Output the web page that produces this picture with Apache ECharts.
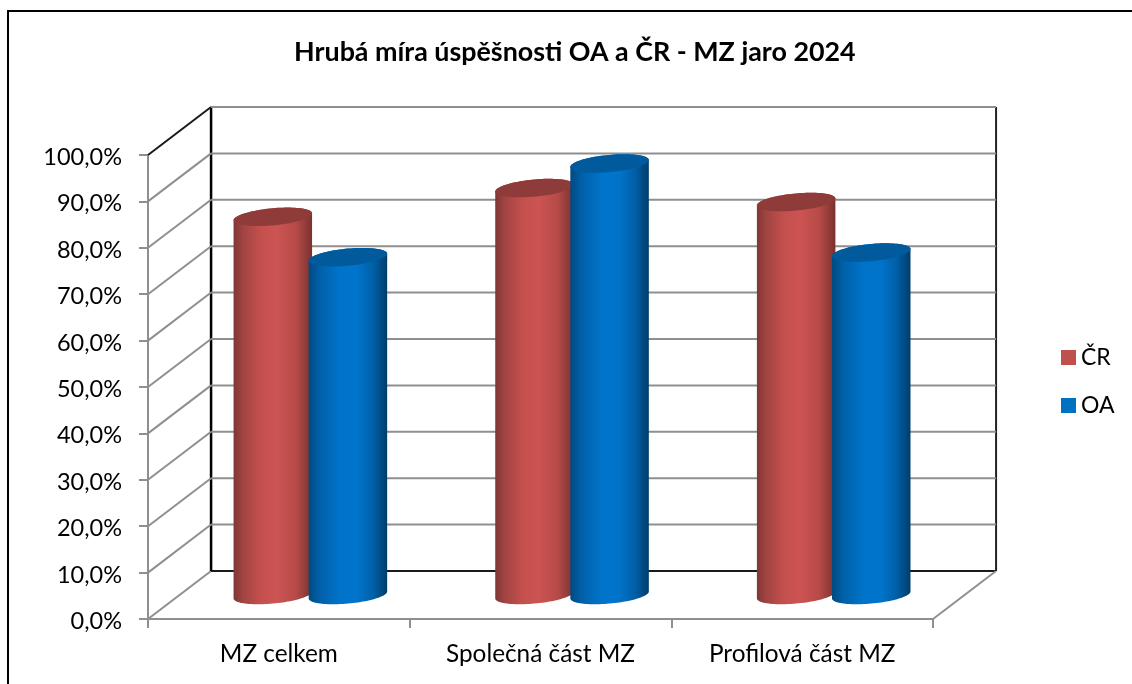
<!DOCTYPE html>
<html>
<head>
<meta charset="utf-8">
<script src="https://cdn.jsdelivr.net/npm/echarts@6/dist/echarts.min.js"></script>
<style>html,body{margin:0;padding:0;background:#fff}#c{width:1132px;height:684px}</style>
</head>
<body>
<div id="c"></div>
<script>
const titleText = 'Hrubá míra úspěšnosti OA a ČR - MZ jaro 2024';
const categories = ['MZ celkem', 'Společná část MZ', 'Profilová část MZ'];
const seriesCR = [81.5, 87.7, 84.7];
const seriesOA = [72.8, 93.0, 73.8];
const gridTicks = [0, 10, 20, 30, 40, 50, 60, 70, 80, 90, 100];

const FONT = 'Lato, "Open Sans", sans-serif';
const GREY = '#8f8f8f';
const DEPTH_X = 0.241;   // depth of the box, in category bands
const DEPTH_Y = 10.35;   // depth of the box, in value units
const HALF_W = 0.15;     // cylinder radius, in bands
const SPREAD = 0.1435;   // cylinder offset from group centre, in bands
const CAP = 1.85;        // cap minor radius, in value units
const TILT = 0.75;       // cap slant, in value units

const grad = (stops) => new echarts.graphic.LinearGradient(0, 0, 1, 0, stops.map(s => ({offset: s[0], color: s[1]})));
const redBody = [[0,'#7f3634'],[0.12,'#a14442'],[0.35,'#c4504e'],[0.55,'#cc5452'],[0.8,'#b54a48'],[1,'#79322f']];
const blueBody = [[0,'#004a80'],[0.14,'#0060a8'],[0.4,'#0074ca'],[0.62,'#0074ca'],[0.82,'#0060a8'],[1,'#003d6a']];

function cylinder(bodyStops, capColor, sign) {
  return function (params, api) {
    const i = api.value(0), v = api.value(1);
    const band = api.size([1, 0])[0], unit = api.size([0, 1])[1];
    const base = api.coord([i, 0]), top = api.coord([i, v]);
    const cx = base[0] + band * (DEPTH_X / 2 + sign * SPREAD);
    const dy = unit * DEPTH_Y / 2;
    const yB = base[1] - dy, yT = top[1] - dy;
    const a = band * HALF_W, b = unit * CAP, s = unit * TILT;
    const pt = (y, t) => [cx + a * Math.cos(t), y + b * Math.sin(t) - s * Math.cos(t)];
    const body = [], cap = [];
    const N = 48;
    for (let k = 0; k <= N; k++) body.push(pt(yB, Math.PI * k / N));
    for (let k = 0; k <= N; k++) body.push(pt(yT, Math.PI + Math.PI * k / N).slice());
    for (let k = 0; k < N * 2; k++) cap.push(pt(yT, Math.PI * k / N));
    return {
      type: 'group',
      children: [
        {type: 'polygon', shape: {points: body}, style: {fill: grad(bodyStops)}},
        {type: 'polygon', shape: {points: cap}, style: {fill: capColor}}
      ]
    };
  };
}

function frame(params, api) {
  const v = api.value(0);
  const band = api.size([1, 0])[0], unit = api.size([0, 1])[1];
  const f0 = api.coord([0, v]);
  const left = f0[0] - band / 2;
  const right = left + band * categories.length;
  const y = f0[1];
  const dx = band * DEPTH_X, dy = unit * DEPTH_Y;
  const line = (x1, y1, x2, y2, stroke, w) => ({
    type: 'line', shape: {x1, y1, x2, y2}, style: {stroke, lineWidth: w}
  });
  const kids = [];
  kids.push(line(left, y, left + dx, y - dy, v === 100 ? '#1a1a1a' : GREY, 2));
  kids.push(line(left + dx, y - dy, right + dx, y - dy, v === 0 ? '#1a1a1a' : GREY, 2));
  if (v === 0) {
    const yTop = api.coord([0, 100])[1] - dy;
    kids.push(line(right, y, right + dx, y - dy, GREY, 2));
    kids.push(line(left + dx, y - dy, left + dx, yTop, '#000', 2.5));
    kids.push(line(right + dx, y - dy, right + dx, yTop, '#222', 2));
  }
  return {type: 'group', children: kids};
}

const chart = echarts.init(document.getElementById('c'), null, {renderer: 'canvas'});
chart.setOption({
  animation: false,
  backgroundColor: '#fff',
  title: {
    text: titleText, left: 289, top: 34,
    textStyle: {fontFamily: FONT, fontSize: 26.85, fontWeight: 'bold', color: '#000'}
  },
  legend: {
    data: ['ČR', 'OA'], orient: 'vertical', left: 1056, top: 341,
    itemWidth: 15, itemHeight: 15, itemGap: 25, icon: 'rect',
    textStyle: {fontFamily: FONT, fontSize: 23, color: '#000'}
  },
  grid: {left: 148, right: 199, top: 155, bottom: 65},
  xAxis: {
    type: 'category', data: categories,
    axisLine: {lineStyle: {color: GREY, width: 2}},
    axisTick: {show: true, length: 9, alignWithLabel: false, lineStyle: {color: GREY, width: 2}},
    axisLabel: {fontFamily: FONT, fontSize: 24.35, color: '#000', margin: 23},
    splitLine: {show: false}
  },
  yAxis: {
    type: 'value', min: 0, max: 100, interval: 10,
    axisLine: {show: true, lineStyle: {color: GREY, width: 2}},
    axisTick: {show: true, length: 9, lineStyle: {color: GREY, width: 2}},
    axisLabel: {
      margin: 26,
      formatter: (v) => '{a|' + v.toFixed(1).replace('.', ',') + '%}',
      rich: {a: {fontFamily: FONT, fontSize: 23.5, color: '#000', padding: [5, 0, 0, 0]}}
    },
    splitLine: {show: false}
  },
  graphic: [{
    type: 'polyline', silent: true,
    shape: {points: [[8, 684], [8, 11], [1132, 11]]},
    style: {stroke: '#000', lineWidth: 2, fill: null}
  }],
  series: [
    {
      type: 'custom', name: 'frame', silent: true, z: 1, clip: false,
      coordinateSystem: 'cartesian2d', renderItem: frame,
      encode: {y: 0},
      data: gridTicks.map(t => [t])
    },
    {
      type: 'custom', name: 'ČR', z: 3, clip: false,
      itemStyle: {color: '#c0504d'},
      renderItem: cylinder(redBody, '#8e3b39', -1),
      encode: {x: 0, y: 1},
      data: seriesCR.map((v, i) => [i, v])
    },
    {
      type: 'custom', name: 'OA', z: 4, clip: false,
      itemStyle: {color: '#0070c0'},
      renderItem: cylinder(blueBody, '#005a9b', 1),
      encode: {x: 0, y: 1},
      data: seriesOA.map((v, i) => [i, v])
    }
  ]
});
</script>
</body>
</html>
